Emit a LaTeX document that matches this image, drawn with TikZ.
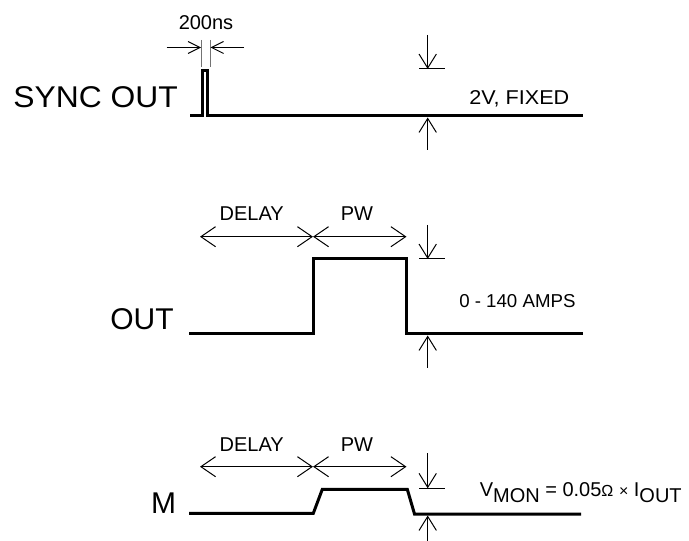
\documentclass[tikz,border=0pt]{standalone}
\usepackage{fontspec}
\setmainfont{Liberation Sans}
\usetikzlibrary{arrows.meta}
\begin{document}
\begin{tikzpicture}[x=0.75pt,y=-0.75pt,
  wave/.style={line width=2.25pt,line join=miter,line cap=butt},
  thin/.style={line width=0.75pt},
  tick/.style={line width=0.75pt,black!55},
  dimarrow/.style={thin,{Straight Barb[length=11pt,width=15pt]}-{Straight Barb[length=11pt,width=15pt]}},
  smallarrow/.style={thin,-{Straight Barb[length=9pt,width=9pt]}},
  varrow/.style={thin,-{Straight Barb[length=10.5pt,width=13pt]}},
  bigtext/.style={inner sep=0pt,font=\fontsize{22.5pt}{27pt}\selectfont},
  smalltext/.style={inner sep=0pt,font=\fontsize{15pt}{18pt}\selectfont},
]
\useasboundingbox (0,0) rectangle (689,541);

% ---------------- SYNC OUT ----------------
\node[bigtext,anchor=base east] (syncl) at (178,107.7) {\scalebox{1.06}[1]{SYNC OUT}};
\draw[wave] (190,116) -- (202,116) -- (202,70.7) -- (207.7,70.7) -- (207.7,116) -- (583,116);
\node[smalltext,anchor=base] (ns) at (206,29.3) {200ns};
\coordinate (t1a) at (201.7,40); \coordinate (t1b) at (201.7,66.7);
\coordinate (t2a) at (210,40); \coordinate (t2b) at (210,66.7);
\draw[tick] (t1a) -- (t1b);
\draw[tick] (t2a) -- (t2b);
\coordinate (a1s) at (166.7,47.5); \coordinate (a1e) at (201.2,47.5);
\coordinate (a2s) at (244,47.5); \coordinate (a2e) at (210.5,47.5);
\draw[smallarrow] (a1s) -- (a1e);
\draw[smallarrow] (a2s) -- (a2e);
% amplitude arrows
\coordinate (s1a) at (427.7,35); \coordinate (s1b) at (427.7,69);
\coordinate (s1l) at (419,69); \coordinate (s1r) at (445,69);
\coordinate (s2a) at (427.7,150); \coordinate (s2b) at (427.7,117.5);
\draw[varrow] (s1a) -- (s1b);
\draw[thin] (s1l) -- (s1r);
\draw[varrow] (s2a) -- (s2b);
\node[smalltext,anchor=base west] (fixed) at (469,105) {\scalebox{1.08}[1]{2V, FIXED}};

% ---------------- OUT ----------------
\node[bigtext,anchor=base east] (outl) at (174,330) {OUT};
\draw[wave] (189,333.3) -- (313.3,333.3) -- (313.3,259) -- (406.7,259) -- (406.7,334) -- (583,334);
\coordinate (d1a) at (200,236.7); \coordinate (d1b) at (313,236.7); \coordinate (d1c) at (406.5,236.7);
\draw[dimarrow] (d1a) -- (d1b);
\draw[dimarrow] (d1b) -- (d1c);
\node[smalltext,anchor=base] (delay1) at (251.7,220.7) {DELAY};
\node[smalltext,anchor=base] (pw1) at (357,220.7) {PW};
\coordinate (o1a) at (427.7,225); \coordinate (o1b) at (427.7,259);
\coordinate (o1l) at (419,259); \coordinate (o1r) at (445,259);
\coordinate (o2a) at (427.7,368); \coordinate (o2b) at (427.7,335.5);
\draw[varrow] (o1a) -- (o1b);
\draw[thin] (o1l) -- (o1r);
\draw[varrow] (o2a) -- (o2b);
\node[smalltext,anchor=base west,font=\fontsize{14pt}{17pt}\selectfont] (amps) at (459,307.3) {0 - 140 AMPS};

% ---------------- M ----------------
\node[bigtext,anchor=base east] (ml) at (176.5,513.3) {M};
\draw[wave] (189,513.3) -- (313.3,513.3) -- (322.3,489.3) -- (407.3,489.3) -- (414.5,514) -- (581,514);
\coordinate (d2a) at (200,466.7); \coordinate (d2b) at (313,466.7); \coordinate (d2c) at (406.5,466.7);
\draw[dimarrow] (d2a) -- (d2b);
\draw[dimarrow] (d2b) -- (d2c);
\node[smalltext,anchor=base] (delay2) at (251.7,451.7) {DELAY};
\node[smalltext,anchor=base] (pw2) at (357,451.7) {PW};
\coordinate (m1a) at (427.7,453.3); \coordinate (m1b) at (427.7,488.3);
\coordinate (m1l) at (419,488.3); \coordinate (m1r) at (445,488.3);
\coordinate (m2a) at (427.7,541); \coordinate (m2b) at (427.7,515.5);
\draw[varrow] (m1a) -- (m1b);
\draw[thin] (m1l) -- (m1r);
\draw[varrow] (m2a) -- (m2b);
\node[smalltext,anchor=base west] (vmon) at (479.5,496.7)
  {V\raisebox{-4.2pt}{MON} = 0.05{\fontsize{12pt}{14pt}\selectfont Ω} {\fontsize{12pt}{14pt}\selectfont ×} I\raisebox{-4.2pt}{OUT}};
\end{tikzpicture}
\end{document}
